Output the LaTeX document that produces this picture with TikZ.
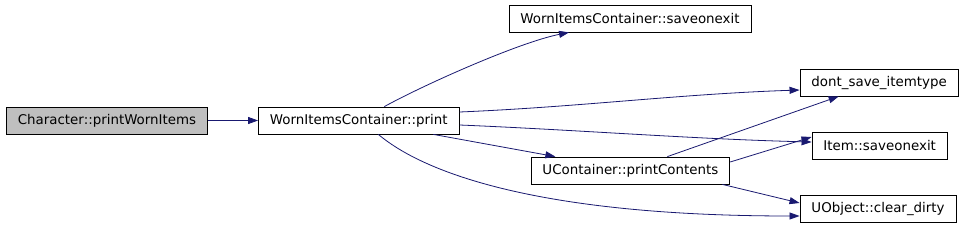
\documentclass[tikz,border=0pt]{standalone}
\usepackage{fontspec}
\setsansfont{DejaVu Sans}
\usetikzlibrary{arrows.meta,positioning}
\definecolor{edgeblue}{HTML}{191970}
\definecolor{rootgrey}{HTML}{BFBFBF}

\begin{document}
\begin{tikzpicture}[
  fn/.style={draw=black, fill=white, line width=0.8pt, minimum height=27pt,
             inner xsep=11.5pt, font=\sffamily\fontsize{13.4}{15}\selectfont},
  call/.style={-{Triangle[length=10pt, width=7pt]}, color=edgeblue, line width=0.8pt},
  node distance=50pt
]
  \useasboundingbox (-107pt,-106.5pt) rectangle (856pt,120.5pt);

  \node[fn, fill=rootgrey] (root) {Character::printWornItems};
  \node[fn, right=of root] (print) {WornItemsContainer::print};
  \node[fn, right=49pt of print, yshift=102pt] (wicsave) {WornItemsContainer::saveonexit};
  \node[fn, right=71pt of print, yshift=-50pt] (contents) {UContainer::printContents};
  \node[fn, right=340pt of print, yshift=38pt] (dontsave) {dont\_save\_itemtype};
  \node[fn, right=352pt of print, yshift=-25pt] (itemsave) {Item::saveonexit};
  \node[fn, right=340pt of print, yshift=-88pt] (dirty) {UObject::clear\_dirty};

  \draw[call] (root) -- (print);
  \draw[call] ([xshift=25.5pt]print.north) .. controls +(40pt,22pt) and +(-50pt,-10pt) .. ([xshift=-61pt]wicsave.south);
  \draw[call] ([yshift=8.5pt]print.east) .. controls +(120pt,5pt) and +(-120pt,-4pt) .. ([yshift=-7.5pt]dontsave.west);
  \draw[call] ([yshift=-4.5pt]print.east) .. controls +(120pt,-5pt) and +(-120pt,3pt) .. ([yshift=3.5pt]itemsave.west);
  \draw[call] ([xshift=74.5pt]print.south) -- ([xshift=-75pt]contents.north);
  \draw[call] ([xshift=19.5pt]print.south) .. controls +(50pt,-42pt) and +(-250pt,0pt) .. ([yshift=-7.5pt]dirty.west);
  \draw[call] ([xshift=37pt]contents.north) -- ([xshift=-40.5pt]dontsave.south);
  \draw[call] ([yshift=8.5pt]contents.east) -- ([yshift=8.5pt]itemsave.west);
  \draw[call] ([xshift=92pt]contents.south) -- ([yshift=5.5pt]dirty.west);
\end{tikzpicture}
\end{document}
